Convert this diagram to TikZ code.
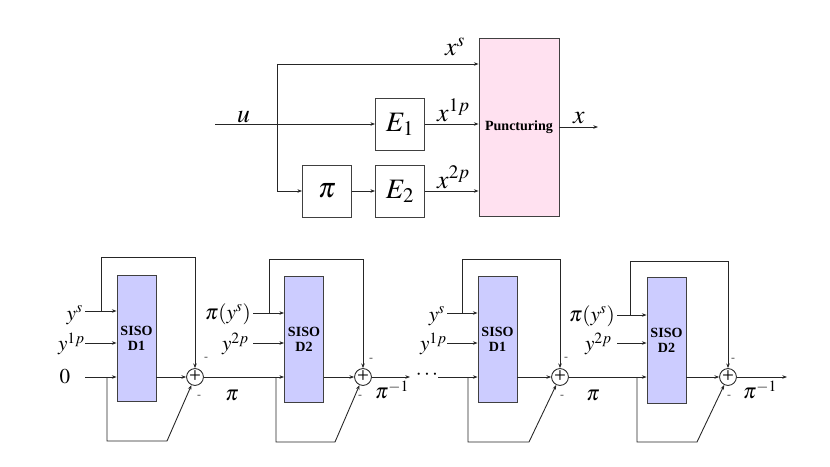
\documentclass[tikz,border=0pt]{standalone}
\usepackage{mathptmx}
\usepackage{fontspec}
\setmainfont{Liberation Serif}
\usetikzlibrary{arrows.meta}
\definecolor{puncpink}{RGB}{255,225,240}
\definecolor{sisoblue}{RGB}{204,204,255}
\tikzset{
  wire/.style={black!85,line width=0.75pt},
  arr/.style={wire,-{Stealth[length=4pt,width=3pt]}},
  blk/.style={draw=black!75,line width=0.75pt,minimum width=14.7mm,minimum height=15.6mm,inner sep=0pt,font=\fontsize{24}{28}\selectfont},
  punc/.style={draw=black!75,line width=0.75pt,fill=puncpink,minimum width=24mm,minimum height=53.4mm,inner sep=0pt,font=\bfseries\fontsize{12}{14}\selectfont},
  siso/.style={draw=black!75,line width=0.75pt,fill=sisoblue,minimum width=11.7mm,minimum height=37.8mm,inner sep=0pt,align=center,font=\bfseries\fontsize{12}{13}\selectfont},
  sum/.style={circle,draw=black!85,line width=0.75pt,minimum size=4.5mm,inner sep=0pt,font=\fontsize{18}{18}\selectfont},
  biglab/.style={font=\fontsize{22}{26}\selectfont,inner sep=0pt},
  lab/.style={font=\fontsize{18}{21}\selectfont,inner sep=0pt},
  minus/.style={font=\fontsize{10}{10}\selectfont,text=black!70,inner sep=0pt}
}
\begin{document}
\begin{tikzpicture}[x=0.3mm,y=-0.3mm]
\useasboundingbox (0,0) rectangle (830,467);
% encoder
\coordinate (uin) at (215,124);
\coordinate (brtop) at (277,64);
\coordinate (brbot) at (277,191);
\node[blk] (E1) at (400,124) {$E_1$};
\node[blk] (perm) at (327,191) {$\pi$};
\node[blk] (E2) at (400,191) {$E_2$};
\node[punc] (punc) at (519,127) {Puncturing};
\coordinate (xout) at (598,127);
\draw[arr] (uin) -- (E1);
\draw[wire] (brtop) -- (brbot);
\draw[arr] (brtop) -- (brtop -| punc.west);
\draw[arr] (brbot) -- (perm);
\draw[arr] (perm) -- (E2);
\draw[arr] (E1) -- (E1 -| punc.west);
\draw[arr] (E2) -- (E2 -| punc.west);
\draw[arr] (punc) -- (xout);
\node[biglab,anchor=base west] (ulab) at (237,122) {$u$};
\node[biglab,anchor=base west] (xslab) at (445,56) {$x^s$};
\node[biglab,anchor=base west] (x1lab) at (437,121) {$x^{1p}$};
\node[biglab,anchor=base west] (x2lab) at (437,188) {$x^{2p}$};
\node[biglab,anchor=base west] (xlab) at (573,123) {$x$};

% decoder, first iteration
\node[siso] (dA) at (136.5,338) {SISO\\D1};
\node[sum] (sA) at (195,377) {+};
\node[siso] (dB) at (304,339.5) {SISO\\D2};
\node[sum] (sB) at (363,377) {+};
\coordinate (ysA) at (85,311);
\coordinate (y1A) at (85,343);
\coordinate (zA) at (85,377);
\draw[arr] (ysA) -- (ysA -| dA.west);
\draw[arr] (y1A) -- (y1A -| dA.west);
\draw[arr] (zA) -- (zA -| dA.west);
\coordinate (jtA) at (101,311);
\coordinate (ctA) at (195,257);
\draw[arr] (jtA) |- (ctA) -- (sA);
\coordinate (jbA) at (107,377);
\coordinate (cbA) at (167,441);
\draw[arr] (jbA) |- (cbA) -- (sA);
\draw[arr] (dA.east |- sA) -- (sA);
\draw[arr] (sA) -- (sA -| dB.west);
\node[lab,anchor=east] (ysAlab) at (83,315) {$y^s$};
\node[lab,anchor=east] (y1Alab) at (85,344) {$y^{1p}$};
\node[lab] (zAlab) at (65,377) {$0$};
\node[minus] (mAt) at (206,359) {-};
\node[minus] (mAb) at (199,397) {-};
\node[lab] (piA) at (232,395) {$\pi$};
\coordinate (psB) at (253,313);
\coordinate (y2B) at (253,343);
\draw[arr] (psB) -- (psB -| dB.west);
\draw[arr] (y2B) -- (y2B -| dB.west);
\node[lab,anchor=east] (psBlab) at (251,314) {$\pi(y^s)$};
\node[lab,anchor=east] (y2Blab) at (249,344) {$y^{2p}$};
\coordinate (jtB) at (269,313);
\coordinate (ctB) at (363,259);
\draw[arr] (jtB) |- (ctB) -- (sB);
\coordinate (jbB) at (276,377);
\coordinate (cbB) at (335,442);
\draw[arr] (jbB) |- (cbB) -- (sB);
\draw[arr] (dB.east |- sB) -- (sB);
\coordinate (oB) at (410,377);
\draw[arr] (sB) -- (oB);
\node[minus] (mBt) at (371,360) {-};
\node[minus] (mBb) at (360,397) {-};
\node[lab] (piinvB) at (392,390) {$\pi^{-1}$};

% decoder, next iteration
\node[lab] (dots) at (427,375) {$\cdots$};
\node[siso] (dC) at (497.5,339.5) {SISO\\D1};
\node[sum] (sC) at (560,377) {+};
\node[siso] (dD) at (666.5,340.5) {SISO\\D2};
\node[sum] (sD) at (728,377) {+};
\coordinate (ysC) at (447,313);
\coordinate (y1C) at (447,343);
\coordinate (zC) at (438,377);
\draw[arr] (ysC) -- (ysC -| dC.west);
\draw[arr] (y1C) -- (y1C -| dC.west);
\draw[arr] (zC) -- (zC -| dC.west);
\coordinate (jtC) at (462,313);
\coordinate (ctC) at (560,259);
\draw[arr] (jtC) |- (ctC) -- (sC);
\coordinate (jbC) at (468,377);
\coordinate (cbC) at (529,442);
\draw[arr] (jbC) |- (cbC) -- (sC);
\draw[arr] (dC.east |- sC) -- (sC);
\draw[arr] (sC) -- (sC -| dD.west);
\node[lab,anchor=east] (ysClab) at (445,316) {$y^s$};
\node[lab,anchor=east] (y1Clab) at (447,344) {$y^{1p}$};
\node[minus] (mCt) at (566,359) {-};
\node[minus] (mCb) at (562,397) {-};
\node[lab] (piC) at (593,395) {$\pi$};
\coordinate (psD) at (617,315);
\coordinate (y2D) at (617,343);
\draw[arr] (psD) -- (psD -| dD.west);
\draw[arr] (y2D) -- (y2D -| dD.west);
\node[lab,anchor=east] (psDlab) at (615,316) {$\pi(y^s)$};
\node[lab,anchor=east] (y2Dlab) at (612,344) {$y^{2p}$};
\coordinate (jtD) at (630,315);
\coordinate (ctD) at (728,261);
\draw[arr] (jtD) |- (ctD) -- (sD);
\coordinate (jbD) at (637,377);
\coordinate (cbD) at (697,442);
\draw[arr] (jbD) |- (cbD) -- (sD);
\draw[arr] (dD.east |- sD) -- (sD);
\coordinate (oD) at (787,377);
\draw[arr] (sD) -- (oD);
\node[minus] (mDt) at (733,360) {-};
\node[minus] (mDb) at (729,397) {-};
\node[lab] (piinvD) at (760,390) {$\pi^{-1}$};
\end{tikzpicture}
\end{document}
